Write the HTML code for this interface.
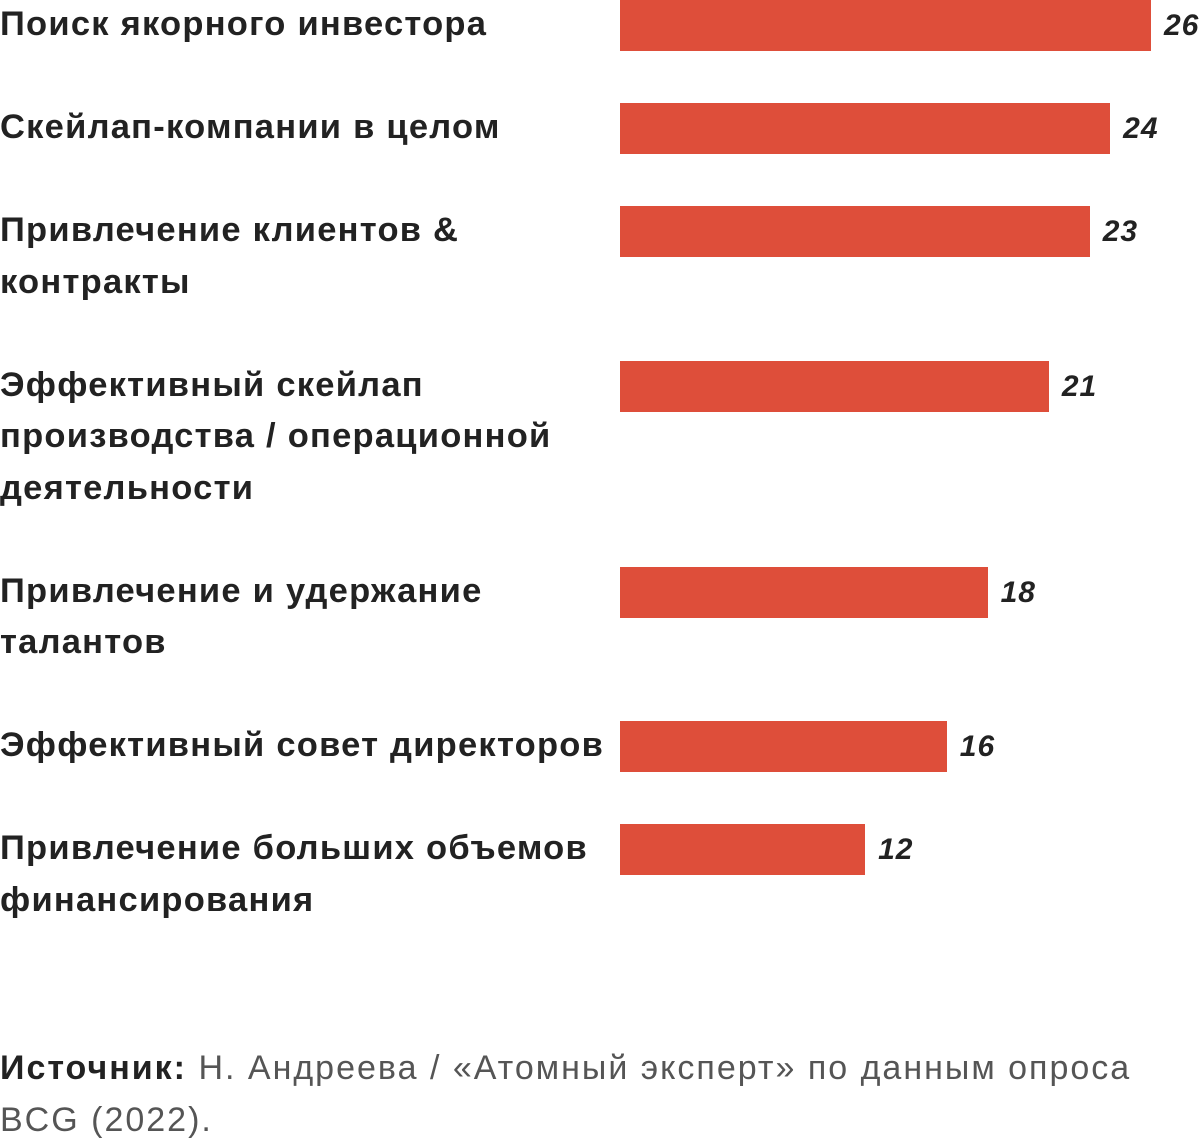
<!DOCTYPE html>
<html><head><meta charset="utf-8">
<style>
body{margin:0;background:#fff;width:1200px;height:1141px;overflow:hidden;font-family:"Liberation Sans","DejaVu Sans",sans-serif;}
#chart{position:absolute;left:0;top:0;width:1200px;height:1000px;}
.lbl{position:absolute;left:0;font-weight:bold;font-size:34.5px;line-height:51.5px;color:#222;white-space:nowrap;letter-spacing:1.25px;}
.bar{position:absolute;background:#de4e3a;}
.val{position:absolute;font-weight:bold;font-style:italic;font-size:30px;color:#222;line-height:51px;letter-spacing:1px;}
#src{position:absolute;left:0;top:1042px;font-size:34px;line-height:52px;color:#555;letter-spacing:2px;white-space:nowrap;}
#src b{color:#222}
</style></head><body>
<div id="chart"></div>
<div id="src"><b>Источник:</b> Н. Андреева / «Атомный эксперт» по данным опроса<br>BCG (2022).</div>
<script>
const categories=["Поиск якорного инвестора","Скейлап-компании в целом","Привлечение клиентов &|контракты","Эффективный скейлап|производства / операционной|деятельности","Привлечение и удержание|талантов","Эффективный совет директоров","Привлечение больших объемов|финансирования"];
const values=[26,24,23,21,18,16,12];
const x0=620, pxPerUnit=(1151-620)/26, barH=51, lineH=51.5, gap=51.5;
const chart=document.getElementById('chart');
function xScale(v){return v*pxPerUnit;}
let y=0;
categories.forEach((c,i)=>{
  const lines=c.split('|');
  const lab=document.createElement('div');
  lab.className='lbl';
  
  
  lab.style.top=(y-1)+'px';
  lab.innerHTML=lines.join('<br>');
  chart.appendChild(lab);
  const b=document.createElement('div');
  b.className='bar';
  
  
  b.style.left=x0+'px';b.style.top=y+'px';b.style.height=barH+'px';b.style.width=xScale(values[i])+'px';
  chart.appendChild(b);
  const v=document.createElement('div');
  v.className='val';
  
  
  v.style.left=(x0+xScale(values[i])+13)+'px';v.style.top=y+'px';
  v.textContent=values[i];
  chart.appendChild(v);
  y+=lines.length*lineH+gap;
});
</script>
</body></html>
